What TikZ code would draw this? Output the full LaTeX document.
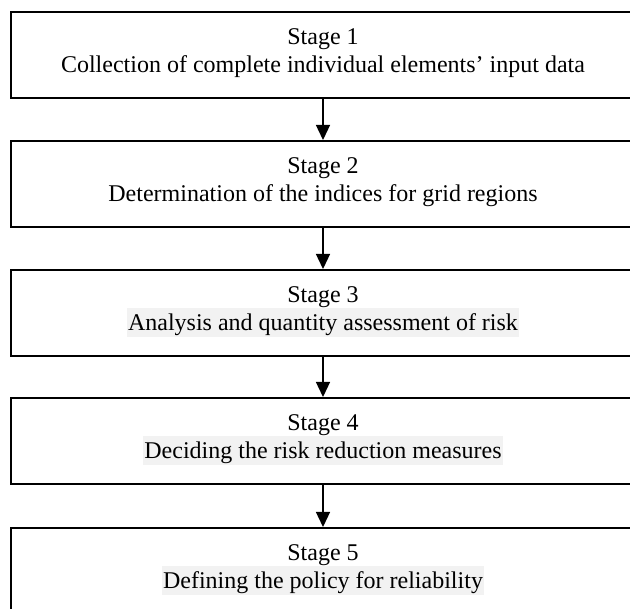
\documentclass[tikz,border=0pt]{standalone}
\usepackage{fontspec}
\setmainfont{Liberation Serif}
\usetikzlibrary{arrows.meta}
\definecolor{hl}{HTML}{F2F2F2}
\tikzset{
  stagebox/.style={draw=black, line width=2pt, rectangle, minimum width=624pt, minimum height=86pt, inner sep=0pt},
  stagetext/.style={anchor=base, inner sep=0pt, font=\fontsize{24}{28}\selectfont},
  hltext/.style={stagetext, fill=hl, inner xsep=1pt, text height=23pt, text depth=6pt},
  flow/.style={line width=1.3pt, -{Triangle[length=15pt,width=14pt]}}
}
\begin{document}
\begin{tikzpicture}[x=1pt,y=-1pt]
\clip (0,0) rectangle (630,609);
\fill[white] (0,0) rectangle (630,609);
\node[stagebox] (s1) at (323,55) {};
\node[stagebox] (s2) at (323,184) {};
\node[stagebox] (s3) at (323,313) {};
\node[stagebox] (s4) at (323,441) {};
\node[stagebox] (s5) at (323,571) {};
\node[stagetext] (t1a) at (323,45) {Stage 1};
\node[stagetext] (t1b) at (323,73) {Collection of complete individual elements’ input data};
\node[stagetext] (t2a) at (323,174) {Stage 2};
\node[stagetext] (t2b) at (323,202) {Determination of the indices for grid regions};
\node[stagetext] (t3a) at (323,303) {Stage 3};
\node[hltext] (t3b) at (323,331) {Analysis and quantity assessment of risk};
\node[stagetext] (t4a) at (323,431) {Stage 4};
\node[hltext] (t4b) at (323,459) {Deciding the risk reduction measures};
\node[stagetext] (t5a) at (323,561) {Stage 5};
\node[hltext] (t5b) at (323,589) {Defining the policy for reliability};
\draw[flow] (s1.south) -- (s2.north);
\draw[flow] (s2.south) -- (s3.north);
\draw[flow] (s3.south) -- (s4.north);
\draw[flow] (s4.south) -- (s5.north);
\end{tikzpicture}
\end{document}
